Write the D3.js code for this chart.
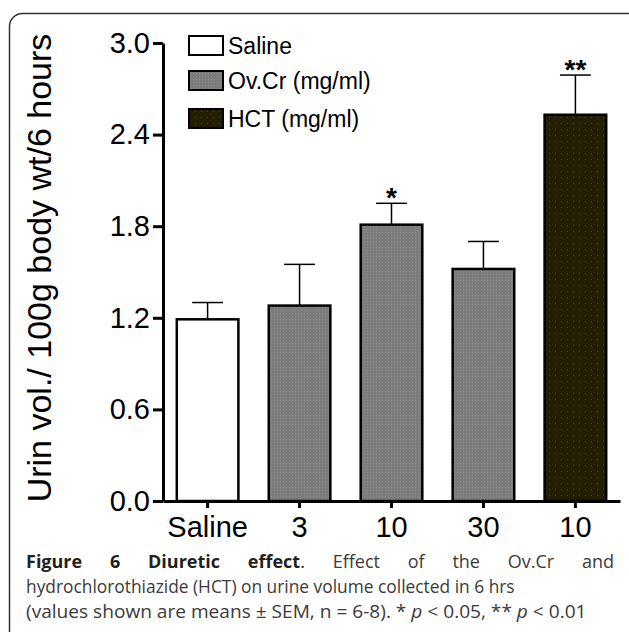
<!DOCTYPE html>
<html>
<head>
<meta charset="utf-8">
<script src="https://cdn.jsdelivr.net/npm/d3@7"></script>
<style>
  body { margin: 0; background: #fff; }
  text { font-family: "Liberation Sans", Arial, sans-serif; }
  .cap { font-family: "Open Sans", sans-serif; }
</style>
</head>
<body>
<div id="chart"></div>
<script>
// Data
var groups = ["Saline", "3", "10", "30", "10"];
var treatment = ["saline", "ovcr", "ovcr", "ovcr", "hct"];
var means = [1.19, 1.28, 1.81, 1.52, 2.53];
var sems = [0.11, 0.27, 0.14, 0.18, 0.26];
var marks = ["", "", "*", "", "**"];
var yTicks = [0.0, 0.6, 1.2, 1.8, 2.4, 3.0];
var legendLabels = ["Saline", "Ov.Cr (mg/ml)", "HCT (mg/ml)"];
var legendKeys = ["saline", "ovcr", "hct"];

var W = 629, H = 632;

var svg = d3.select("#chart").append("svg")
    .attr("width", W)
    .attr("height", H);

// patterns for the shaded bars
var defs = svg.append("defs");
var pGray = defs.append("pattern").attr("id", "pgray")
    .attr("width", 3).attr("height", 3).attr("patternUnits", "userSpaceOnUse");
pGray.append("rect").attr("width", 3).attr("height", 3).attr("fill", "#7c7c7c");
pGray.append("rect").attr("x", 1).attr("y", 1).attr("width", 1).attr("height", 1).attr("fill", "#8e8e8e");

var pDark = defs.append("pattern").attr("id", "pdark")
    .attr("width", 6).attr("height", 6).attr("patternUnits", "userSpaceOnUse");
pDark.append("rect").attr("width", 6).attr("height", 6).attr("fill", "#221e02");
pDark.append("rect").attr("x", 3).attr("y", 3).attr("width", 1).attr("height", 1).attr("fill", "#4d4a33");

var fills = { saline: "#ffffff", ovcr: "url(#pgray)", hct: "url(#pdark)" };

// frame
svg.append("rect")
    .attr("x", 9.5).attr("y", 13.5)
    .attr("width", 640).attr("height", 700)
    .attr("rx", 13)
    .attr("fill", "none")
    .attr("stroke", "#333")
    .attr("stroke-width", 1.5);

// scales
var x = d3.scaleBand()
    .domain(d3.range(groups.length))
    .range([163, 620])
    .paddingInner(0.33)
    .paddingOuter(0.15);

var y = d3.scaleLinear()
    .domain([0, 3.0])
    .range([501, 43]);

// bars
svg.selectAll(".bar")
    .data(means)
    .enter().append("rect")
    .attr("class", "bar")
    .attr("x", function(d, i) { return x(i); })
    .attr("y", function(d) { return y(d); })
    .attr("width", x.bandwidth())
    .attr("height", function(d) { return y(0) - y(d); })
    .attr("fill", function(d, i) { return fills[treatment[i]]; })
    .attr("stroke", "#000")
    .attr("stroke-width", 2.5);

// error bars
var capW = x.bandwidth() / 2;
means.forEach(function(m, i) {
    var cx = x(i) + x.bandwidth() / 2;
    var top = y(m + sems[i]);
    svg.append("line")
        .attr("x1", cx).attr("x2", cx)
        .attr("y1", y(m)).attr("y2", top)
        .attr("stroke", "#000").attr("stroke-width", 1.5);
    svg.append("line")
        .attr("x1", cx - capW / 2).attr("x2", cx + capW / 2)
        .attr("y1", top).attr("y2", top)
        .attr("stroke", "#000").attr("stroke-width", 1.5);
    if (marks[i]) {
        svg.append("text")
            .attr("x", cx).attr("y", top + 4)
            .attr("text-anchor", "middle")
            .attr("font-size", 28)
            .attr("font-weight", "bold")
            .text(marks[i]);
    }
});

// axes
var yAxis = svg.append("g")
    .attr("transform", "translate(163,0)")
    .call(d3.axisLeft(y).tickValues(yTicks).tickFormat(d3.format(".1f"))
        .tickSize(10).tickSizeOuter(0).tickPadding(3));

var xAxis = svg.append("g")
    .attr("transform", "translate(0,501)")
    .call(d3.axisBottom(x).tickFormat(function(i) { return groups[i]; })
        .tickSize(7).tickSizeOuter(0).tickPadding(8));

[yAxis, xAxis].forEach(function(g) {
    g.select(".domain").attr("stroke-width", 3);
    g.selectAll(".tick line").attr("stroke-width", 3);
    g.selectAll(".tick text")
        .attr("font-family", "Liberation Sans, Arial, sans-serif")
        .attr("font-size", 29)
        .attr("fill", "#000");
});

// y title
svg.append("text")
    .attr("transform", "translate(51,268) rotate(-90)")
    .attr("text-anchor", "middle")
    .attr("font-size", 34)
    .text("Urin vol./ 100g body wt/6 hours");

// legend
var legendY = [36, 71, 109];
legendLabels.forEach(function(lab, i) {
    svg.append("rect")
        .attr("x", 189).attr("y", legendY[i])
        .attr("width", 34).attr("height", 19)
        .attr("fill", fills[legendKeys[i]])
        .attr("stroke", "#000")
        .attr("stroke-width", 2);
    svg.append("text")
        .attr("x", 228).attr("y", legendY[i] + 18)
        .attr("font-size", 23)
        .text(lab);
});

// caption
var capLeft = 26, capRight = 614, capSize = 18;
var line1 = [
    { t: "Figure", b: true }, { t: "6", b: true }, { t: "Diuretic", b: true },
    { t: "effect", b: true, tail: "." }, { t: "Effect" }, { t: "of" },
    { t: "the" }, { t: "Ov.Cr" }, { t: "and" }
];
var tmp = svg.append("g");
var widths = line1.map(function(w) {
    var t = tmp.append("text").attr("class", "cap").attr("font-size", capSize)
        .attr("font-weight", w.b ? "bold" : "normal");
    t.append("tspan").text(w.t);
    if (w.tail) t.append("tspan").attr("font-weight", "normal").text(w.tail);
    return t.node().getComputedTextLength();
});
tmp.remove();
var gap = (capRight - capLeft - d3.sum(widths)) / (line1.length - 1);
var cx0 = capLeft;
line1.forEach(function(w, i) {
    var t = svg.append("text").attr("class", "cap")
        .attr("x", cx0).attr("y", 568)
        .attr("font-size", capSize)
        .attr("fill", w.b ? "#231f20" : "#3a3a3a")
        .attr("font-weight", w.b ? "bold" : "normal");
    t.append("tspan").text(w.t);
    if (w.tail) t.append("tspan").attr("font-weight", "normal").text(w.tail);
    cx0 += widths[i] + gap;
});

// lines 2 and 3 are fitted horizontally to the reference widths
function squeeze(t, yPos, target) {
    var w = t.node().getComputedTextLength();
    t.attr("transform", "translate(" + capLeft + "," + yPos + ") scale(" + (target / w) + ",1)");
}

var l2 = svg.append("text").attr("class", "cap")
    .attr("font-size", capSize).attr("fill", "#3a3a3a")
    .text("hydrochlorothiazide (HCT) on urine volume collected in 6 hrs");
squeeze(l2, 593, 489);

var l3 = svg.append("text").attr("class", "cap")
    .attr("font-size", capSize).attr("fill", "#3a3a3a");
l3.append("tspan").text("(values shown are means \u00b1 SEM, n = 6-8). * ");
l3.append("tspan").attr("font-style", "italic").text("p");
l3.append("tspan").text(" < 0.05, ** ");
l3.append("tspan").attr("font-style", "italic").text("p");
l3.append("tspan").text(" < 0.01");
squeeze(l3, 618, 561);
</script>
</body>
</html>
